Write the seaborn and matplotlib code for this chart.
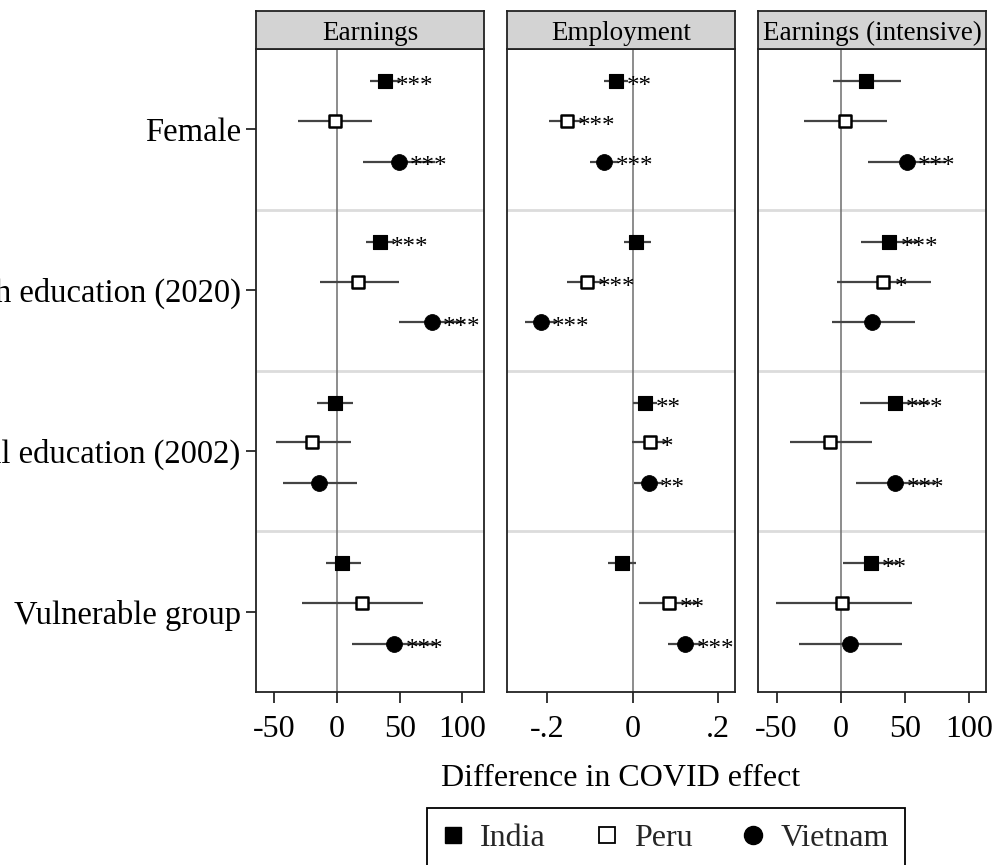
import matplotlib
matplotlib.use("Agg")
import matplotlib.pyplot as plt
from matplotlib.lines import Line2D
import numpy as np
import pandas as pd
import seaborn as sns

# ---------------- data ----------------
groups = ["Female", "High education (2020)", "Parental education (2002)", "Vulnerable group"]
outcomes = ["Earnings", "Employment", "Earnings (intensive)"]
countries = ["India", "Peru", "Vietnam"]

# Earnings
earn_india_b = [38.3, 34.3, -1.6, 3.7]
earn_india_lo = [26.3, 22.9, -16.2, -8.8]
earn_india_hi = [50.3, 45.7, 13.0, 18.9]
earn_india_sig = ["***", "***", "", ""]
earn_peru_b = [-1.6, 17.0, -19.7, 19.7]
earn_peru_lo = [-30.9, -13.6, -48.6, -28.2]
earn_peru_hi = [28.2, 49.4, 10.9, 68.8]
earn_peru_sig = ["", "", "", ""]
earn_viet_b = [49.4, 75.5, -14.1, 45.7]
earn_viet_lo = [20.5, 49.4, -42.8, 11.7]
earn_viet_hi = [78.3, 101.6, 16.2, 79.7]
earn_viet_sig = ["***", "***", "", "***"]

# Employment
emp_india_b = [-0.039, 0.008, 0.029, -0.024]
emp_india_lo = [-0.067, -0.020, 0.002, -0.057]
emp_india_hi = [-0.011, 0.042, 0.056, 0.009]
emp_india_sig = ["**", "", "**", ""]
emp_peru_b = [-0.154, -0.107, 0.040, 0.085]
emp_peru_lo = [-0.195, -0.154, -0.001, 0.014]
emp_peru_hi = [-0.113, -0.061, 0.082, 0.155]
emp_peru_sig = ["***", "***", "*", "**"]
emp_viet_b = [-0.066, -0.214, 0.038, 0.123]
emp_viet_lo = [-0.100, -0.251, 0.004, 0.082]
emp_viet_hi = [-0.033, -0.177, 0.072, 0.164]
emp_viet_sig = ["***", "***", "**", "***"]

# Earnings (intensive)
int_india_b = [19.7, 37.9, 42.4, 23.4]
int_india_lo = [-6.2, 15.8, 15.0, 2.1]
int_india_hi = [46.8, 60.0, 70.0, 44.7]
int_india_sig = ["", "***", "***", "**"]
int_peru_b = [3.4, 33.2, -8.3, 1.3]
int_peru_lo = [-28.6, -2.6, -39.5, -50.5]
int_peru_hi = [35.9, 70.2, 24.2, 55.9]
int_peru_sig = ["", "*", "", ""]
int_viet_b = [51.5, 24.2, 42.6, 7.3]
int_viet_lo = [21.0, -7.0, 11.7, -32.3]
int_viet_hi = [82.0, 58.0, 73.5, 47.6]
int_viet_sig = ["***", "", "***", ""]

xticks_earn = [-50, 0, 50, 100]
xticklabels_earn = ["-50", "0", "50", "100"]
xticks_emp = [-0.2, 0, 0.2]
xticklabels_emp = ["-.2", "0", ".2"]

# ---------------- build table ----------------
series = {
    ("Earnings", "India"): (earn_india_b, earn_india_lo, earn_india_hi, earn_india_sig),
    ("Earnings", "Peru"): (earn_peru_b, earn_peru_lo, earn_peru_hi, earn_peru_sig),
    ("Earnings", "Vietnam"): (earn_viet_b, earn_viet_lo, earn_viet_hi, earn_viet_sig),
    ("Employment", "India"): (emp_india_b, emp_india_lo, emp_india_hi, emp_india_sig),
    ("Employment", "Peru"): (emp_peru_b, emp_peru_lo, emp_peru_hi, emp_peru_sig),
    ("Employment", "Vietnam"): (emp_viet_b, emp_viet_lo, emp_viet_hi, emp_viet_sig),
    ("Earnings (intensive)", "India"): (int_india_b, int_india_lo, int_india_hi, int_india_sig),
    ("Earnings (intensive)", "Peru"): (int_peru_b, int_peru_lo, int_peru_hi, int_peru_sig),
    ("Earnings (intensive)", "Vietnam"): (int_viet_b, int_viet_lo, int_viet_hi, int_viet_sig),
}
offsets = {"India": -0.30, "Peru": -0.053, "Vietnam": 0.20}
rows = []
for (o, c), (b, lo, hi, sig) in series.items():
    for g in range(len(groups)):
        rows.append(dict(outcome=o, country=c, group=g, b=b[g], lo=lo[g], hi=hi[g],
                         sig=sig[g], ypos=g + 0.5 + offsets[c]))
df = pd.DataFrame(rows)

# ---------------- style ----------------
sns.set_theme(style="white")
plt.rcParams["font.family"] = ["Liberation Serif", "DejaVu Serif"]
plt.rcParams["axes.linewidth"] = 1.3
plt.rcParams["axes.edgecolor"] = "#222222"

W, H = 1002, 865
fig = plt.figure(figsize=(W / 100, H / 100), dpi=100)
fig.patch.set_facecolor("white")

def fx(px):
    return px / W

def fy(py):
    return 1 - py / H

panel_px = [(256, 484), (507, 735), (758, 986)]
top_px, bot_px, head_top = 49, 692, 11
xlims = [(-64.6, 117.2), (-0.293, 0.239), (-64.5, 113.3)]
xt = [(xticks_earn, xticklabels_earn), (xticks_emp, xticklabels_emp), (xticks_earn, xticklabels_earn)]

marker_style = {
    "India": dict(marker="s", s=110, color="black", edgecolor="black", linewidth=0.8),
    "Peru": dict(marker="s", s=85, color="white", edgecolor="black", linewidth=1.8),
    "Vietnam": dict(marker="o", s=130, color="black", edgecolor="black", linewidth=0.6),
}

for k, o in enumerate(outcomes):
    x0, x1 = panel_px[k]
    ax = fig.add_axes([fx(x0), fy(bot_px), fx(x1 - x0), (bot_px - top_px) / H])
    hax = fig.add_axes([fx(x0), fy(top_px), fx(x1 - x0), (top_px - head_top) / H])

    sub = df[df.outcome == o]
    ax.axvline(0, color="#6e6e6e", lw=1.1, zorder=1)
    for sep in range(1, len(groups)):
        ax.axhline(sep, color="#dcdcdc", lw=2.0, zorder=0.5)
    ax.hlines(sub.ypos, sub.lo, sub.hi, color="#444444", lw=1.6, zorder=2)
    for c in countries:
        sc = sub[sub.country == c]
        sns.scatterplot(data=sc, x="b", y="ypos", ax=ax, legend=False, zorder=3,
                        **marker_style[c])
        for _, r in sc.iterrows():
            if r.sig:
                ax.annotate(r.sig, (r.b, r.ypos), xytext=(8.0, -8.6),
                            textcoords="offset points", ha="left", va="baseline",
                            fontsize=18, color="black", zorder=4)

    ax.set_xlim(*xlims[k])
    ax.set_ylim(len(groups), 0)
    ax.set_xticks(xt[k][0])
    ax.set_xticklabels(xt[k][1], fontsize=23)
    ax.set_xlabel("")
    ax.set_ylabel("")
    ax.tick_params(axis="x", bottom=True, direction="out", length=8, width=1.1,
                   pad=8.5, colors="black", labelcolor="black")
    if k == 0:
        ax.set_yticks([g + 0.5 for g in range(len(groups))])
        ax.set_yticklabels(groups, fontsize=23.5)
        ax.tick_params(axis="y", left=True, direction="out", length=7, width=1.1,
                       pad=4, colors="black", labelcolor="black")
    else:
        ax.set_yticks([])
    for sp in ax.spines.values():
        sp.set_visible(True)
        sp.set_color("#222222")
        sp.set_linewidth(1.3)
    ax.set_facecolor("white")

    hax.set_facecolor("#d3d3d3")
    hax.set_xticks([])
    hax.set_yticks([])
    for sp in hax.spines.values():
        sp.set_visible(True)
        sp.set_color("#222222")
        sp.set_linewidth(1.3)
    hax.text(0.5, 0.42, o, ha="center", va="center", fontsize=19.5, color="black",
             transform=hax.transAxes)

fig.text(fx(621), fy(778), "Difference in COVID effect", ha="center", va="center",
         fontsize=23, color="black")

handles = [
    Line2D([], [], ls="none", marker="s", ms=12, mfc="black", mec="black"),
    Line2D([], [], ls="none", marker="s", ms=11, mfc="white", mec="black", mew=1.3),
    Line2D([], [], ls="none", marker="o", ms=13, mfc="black", mec="black"),
]
leg = fig.legend(handles, countries, loc="upper center", bbox_to_anchor=(fx(666), fy(808)),
                 ncol=3, frameon=True, fancybox=False, edgecolor="black", fontsize=23,
                 handlelength=0.6, handletextpad=0.55, columnspacing=1.6, borderpad=0.5,
                 borderaxespad=0.0, framealpha=1)
leg.get_frame().set_linewidth(1.3)

fig.savefig("out.png", dpi=100, facecolor="white")
